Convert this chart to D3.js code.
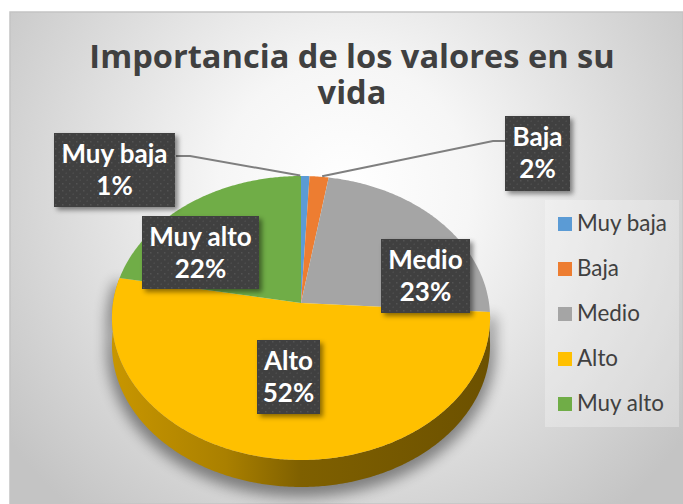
<!DOCTYPE html>
<html>
<head>
<meta charset="utf-8">
<style>
html, body { margin: 0; padding: 0; background: #fff; }
svg { display: block; }
</style>
<script src="https://d3js.org/d3.v7.min.js"></script>
</head>
<body>
<script>
var titleLines = ["Importancia de los valores en su", "vida"];
var categories = ["Muy baja", "Baja", "Medio", "Alto", "Muy alto"];
var values = [0.8, 1.8, 23.4, 51.9, 22.1];
var colors = ["#5b9bd5", "#ed7d31", "#a5a5a5", "#ffc000", "#70ad47"];

var width = 683, height = 504;

var svg = d3.select("body").append("svg")
    .attr("width", width)
    .attr("height", height);

var defs = svg.append("defs");

var bg = defs.append("radialGradient").attr("id", "bg")
    .attr("gradientUnits", "userSpaceOnUse")
    .attr("cx", 345).attr("cy", 190).attr("r", 420);
bg.append("stop").attr("offset", "0%").attr("stop-color", "#ffffff");
bg.append("stop").attr("offset", "30%").attr("stop-color", "#f6f6f6");
bg.append("stop").attr("offset", "100%").attr("stop-color", "#c4c4c4");

var wall = defs.append("linearGradient").attr("id", "wall")
    .attr("gradientUnits", "userSpaceOnUse")
    .attr("x1", 112).attr("x2", 490).attr("y1", 0).attr("y2", 0);
[[0, "#c89600"], [0.3, "#aa8000"], [0.5, "#7f6000"], [1, "#6c5100"]].forEach(function (d) {
    wall.append("stop").attr("offset", d[0]).attr("stop-color", d[1]);
});

// dotted fill of the data labels
var dots = defs.append("pattern").attr("id", "dots")
    .attr("patternUnits", "userSpaceOnUse")
    .attr("width", 7).attr("height", 7);
dots.append("rect").attr("width", 7).attr("height", 7).attr("fill", "#404040");
dots.append("rect").attr("x", 1).attr("y", 1).attr("width", 1.5).attr("height", 1.5).attr("fill", "#525252");
dots.append("rect").attr("x", 4.5).attr("y", 4.5).attr("width", 1.5).attr("height", 1.5).attr("fill", "#4c4c4c");

defs.append("filter").attr("id", "boxShadow")
    .attr("x", "-20%").attr("y", "-20%").attr("width", "150%").attr("height", "150%")
    .append("feDropShadow")
    .attr("dx", 3).attr("dy", 3).attr("stdDeviation", 2.5)
    .attr("flood-color", "#000").attr("flood-opacity", 0.45);

defs.append("filter").attr("id", "pieShadow")
    .attr("x", "-20%").attr("y", "-20%").attr("width", "140%").attr("height", "140%")
    .append("feGaussianBlur").attr("stdDeviation", 7);

// chart area
svg.append("rect")
    .attr("x", 10).attr("y", 12)
    .attr("width", width - 10).attr("height", height - 12)
    .attr("fill", "url(#bg)")
    .attr("stroke", "#c4c4c4").attr("stroke-width", 1.5);

// title
svg.append("g").selectAll("text")
    .data(titleLines)
    .enter().append("text")
    .attr("x", 352)
    .attr("y", function (d, i) { return 68 + i * 36; })
    .attr("text-anchor", "middle")
    .attr("font-family", "'Open Sans', sans-serif")
    .attr("font-weight", 700)
    .attr("font-size", 32.6)
    .attr("fill", "#404040")
    .text(function (d) { return d; });

// tilted pie: the unit circle goes through a small perspective so the hub sits above the ellipse centre
var cx = 301, cy = 303, rx = 188, ry = 140.4, persp = 0.1056, depth = 27;

function project(angle, r) {
    var u = r * Math.sin(angle), v = -r * Math.cos(angle);
    var s = 1 / (1 - persp * v);
    return [cx + rx * u * s, cy + ry * v * s];
}

function arcPoints(a0, a1) {
    var n = Math.max(2, Math.ceil((a1 - a0) / 0.01));
    return d3.range(n + 1).map(function (i) {
        return project(a0 + (a1 - a0) * i / n, 1);
    });
}

var line = d3.line();
var color = d3.scaleOrdinal().domain(categories).range(colors);
var pie = d3.pie().sort(null).value(function (d, i) { return values[i]; });
var slices = pie(categories);

function wallPath(d) {
    var top = arcPoints(d.startAngle, d.endAngle);
    var bottom = top.map(function (p) { return [p[0], p[1] + depth]; }).reverse();
    return line(top.concat(bottom)) + "Z";
}

var front = slices[3];

svg.append("path")
    .attr("d", wallPath(front))
    .attr("fill", "#000")
    .attr("opacity", 0.42)
    .attr("stroke", "#000")
    .attr("stroke-width", 10)
    .attr("transform", "translate(0,5)")
    .attr("filter", "url(#pieShadow)");

svg.append("path")
    .attr("d", wallPath(front))
    .attr("fill", "url(#wall)");

svg.append("g").selectAll("path")
    .data(slices)
    .enter().append("path")
    .attr("d", function (d) {
        return line([project(0, 0)].concat(arcPoints(d.startAngle, d.endAngle))) + "Z";
    })
    .attr("fill", function (d) { return color(d.data); });

// leader lines for the two thin slices
var leaders = [
    { i: 0, from: [176, 156], knee: [190, 156], dx: -5 },
    { i: 1, from: [505, 141], knee: [493, 141], dx: 3 }
];
svg.append("g").selectAll("path")
    .data(leaders)
    .enter().append("path")
    .attr("d", function (d) {
        var s = slices[d.i], p = project((s.startAngle + s.endAngle) / 2, 1);
        return line([d.from, d.knee, [p[0] + d.dx, p[1] - 0.5]]);
    })
    .attr("fill", "none")
    .attr("stroke", "#7f7f7f")
    .attr("stroke-width", 2);

// data labels
var labelBoxes = [
    { x: 54, y: 133, w: 121, h: 74 },
    { x: 505, y: 116, w: 65, h: 75 },
    { x: 381, y: 239, w: 89, h: 74 },
    { x: 257, y: 340, w: 63, h: 74 },
    { x: 142, y: 216, w: 117, h: 73 }
];
var labels = svg.append("g").selectAll("g")
    .data(slices)
    .enter().append("g")
    .attr("transform", function (d, i) {
        return "translate(" + labelBoxes[i].x + "," + labelBoxes[i].y + ")";
    });

labels.append("rect")
    .attr("width", function (d, i) { return labelBoxes[i].w; })
    .attr("height", function (d, i) { return labelBoxes[i].h; })
    .attr("fill", "url(#dots)")
    .attr("filter", "url(#boxShadow)");

labels.each(function (d, i) {
    var g = d3.select(this), b = labelBoxes[i];
    [d.data, Math.round(d.value) + "%"].forEach(function (t, k) {
        g.append("text")
            .attr("x", b.w / 2)
            .attr("y", 30 + k * 32)
            .attr("text-anchor", "middle")
            .attr("font-family", "Lato, sans-serif")
            .attr("font-weight", 700)
            .attr("font-size", 26)
            .attr("fill", "#fff")
            .text(t);
    });
});

// legend
svg.append("rect")
    .attr("x", 545).attr("y", 200)
    .attr("width", 134).attr("height", 227)
    .attr("fill", "#fff").attr("fill-opacity", 0.28);

var legendY = d3.scalePoint().domain(categories).range([224, 404]);
var legend = svg.append("g").selectAll("g")
    .data(categories)
    .enter().append("g")
    .attr("transform", function (d) { return "translate(558," + legendY(d) + ")"; });

legend.append("rect")
    .attr("y", -7).attr("width", 14).attr("height", 14)
    .attr("fill", function (d) { return color(d); });

legend.append("text")
    .attr("x", 19)
    .attr("y", 7)
    .attr("font-family", "Lato, sans-serif")
    .attr("font-size", 22.4)
    .attr("fill", "#404040")
    .text(function (d) { return d; });
</script>
</body>
</html>
